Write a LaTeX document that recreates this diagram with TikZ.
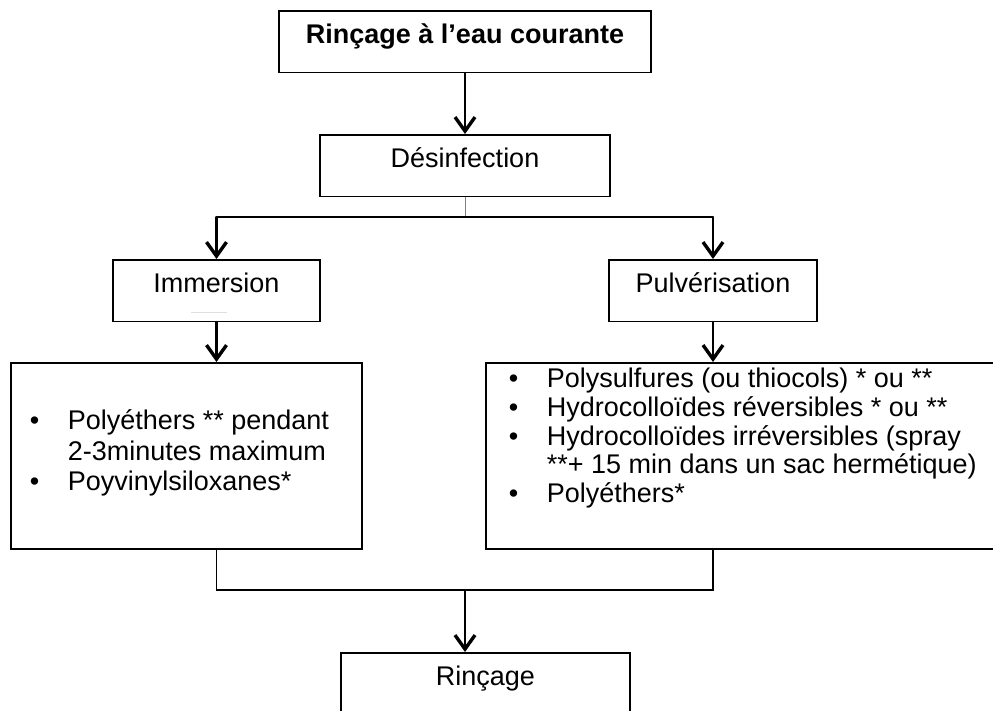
\documentclass[tikz,border=0pt]{standalone}
\usepackage{fontspec}
\setmainfont{Liberation Sans}
\usetikzlibrary{arrows.meta}

\newcommand{\itm}{\makebox[38pt][l]{\textbullet}}

\begin{document}
\begin{tikzpicture}[x=1pt, y=-1pt,
  box/.style={draw, line width=1.6pt, inner sep=0pt,
    text height=33pt, text depth=28.5pt, anchor=north},
  listbox/.style={draw, line width=1.6pt, inner sep=0pt, anchor=north west},
  arr/.style={line width=2.3pt, line cap=round, line join=round,
    -{Straight Barb[length=14pt, width=20pt, line width=3.4pt]}},
  link/.style={line width=1.6pt}]%
  \fontsize{27}{30.5}\selectfont
  \useasboundingbox (0,0) rectangle (993,710);
  \clip (0,0) rectangle (993,710);
  \node[box, minimum width=372pt, font=\bfseries] (eau) at (465,10) {Rinçage à l’eau courante};
  \node[box, minimum width=290pt] (desinf) at (465,134) {Désinfection};
  \node[box, minimum width=207pt] (immer) at (216.5,259) {Immersion};
  \node[box, minimum width=208pt] (pulver) at (713,259) {Pulvérisation};
  \node[listbox, text height=67pt, text depth=119pt] (liste1) at (10,362)
    {\makebox[351pt][l]{\begin{tabular}[t]{@{\hspace{19pt}}l@{}l@{}}
      \itm & Polyéthers ** pendant\\
      & 2-3minutes maximum\\
      \itm & Poyvinylsiloxanes*
    \end{tabular}}};
  \node[listbox, text height=25pt, text depth=161pt,
    font=\fontsize{27}{28.7}\selectfont] (liste2) at (485,362)
    {\makebox[512pt][l]{\begin{tabular}[t]{@{\hspace{23pt}}l@{}l@{}}
      \itm & Polysulfures (ou thiocols) * ou **\\
      \itm & Hydrocolloïdes réversibles * ou **\\
      \itm & Hydrocolloïdes irréversibles (spray\\
      & **+ 15 min dans un sac hermétique)\\
      \itm & Polyéthers*
    \end{tabular}}};
  \node[box, minimum width=289pt, text depth=60pt] (rincage) at (485.5,652) {Rinçage};
  \draw[gray!25, line width=1pt] (191,312) -- (227,312);
  % vers la desinfection
  \draw[arr] (eau.south) -- (desinf.north);
  \coordinate (split) at (465,217);
  \draw[gray, line width=0.8pt] (desinf.south) -- (split);
  \draw[link] (immer.north |- split) -- (pulver.north |- split);
  \draw[arr] (immer.north |- split) -- (immer.north);
  \draw[arr] (pulver.north |- split) -- (pulver.north);
  \draw[arr] (immer.south) -- (immer.south |- liste1.north);
  \draw[arr] (pulver.south) -- (pulver.south |- liste2.north);
  % retour vers le rincage
  \coordinate (join) at (465,590);
  \draw[link] (immer.south |- liste1.south) -- (immer.south |- join)
    -- (pulver.south |- join) -- (pulver.south |- liste2.south);
  \draw[arr] (join) -- (join |- rincage.north);
\end{tikzpicture}
\end{document}
